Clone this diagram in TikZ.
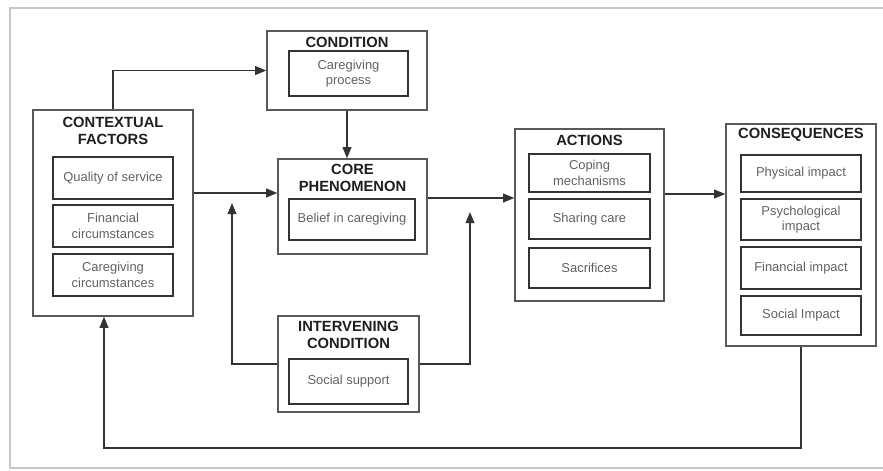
\documentclass[tikz,border=0pt]{standalone}
\usepackage{fontspec}
\setmainfont{Liberation Sans}
\usetikzlibrary{arrows.meta}
\tikzset{
  grp/.style 2 args={draw=black!65, line width=0.9pt, minimum width=#1cm, minimum height=#2cm, inner sep=0pt},
  item/.style 2 args={draw=black!80, line width=1.1pt, minimum width=#1cm, minimum height=#2cm, inner sep=1pt,
    align=center, text=black!62, font=\fontsize{9.2}{11}\selectfont},
  ttl/.style={align=center, inner sep=0pt, text=black!88, font=\bfseries\fontsize{10.5}{12.3}\selectfont},
  arr/.style={draw=black!80, line width=1pt, -{Triangle[length=2.8mm,width=2.2mm]}}
}

\begin{document}
\begin{tikzpicture}[x=0.025cm, y=-0.025cm]
  \useasboundingbox (0,0) rectangle (883,470);

  % frame
  \draw[black!22, line width=0.8pt] (883,8) -- (10,8) -- (10,468) -- (883,468);

  % contextual factors
  \node[grp={4}{5.15}] (cf) at (113,213) {};
  \node[ttl] (cft) at (113,131) {CONTEXTUAL\\FACTORS};
  \node[item={3}{1.05}] (qos) at (113,178) {Quality of service};
  \node[item={3}{1.05}] (fin) at (113,226) {Financial\\circumstances};
  \node[item={3}{1.05}] (cgc) at (113,275) {Caregiving\\circumstances};

  % condition
  \node[grp={4}{1.975}] (cond) at (347,70.5) {};
  \node[ttl] (condt) at (347,42) {CONDITION};
  \node[item={2.975}{1.125}] (cgp) at (348.5,73.5) {Caregiving\\process};

  % core phenomenon
  \node[grp={3.725}{2.375}] (core) at (352.5,206.5) {};
  \node[ttl] (coret) at (352.5,178) {CORE\\PHENOMENON};
  \node[item={3.15}{1.025}] (bel) at (352,219.5) {Belief in caregiving};

  % intervening condition
  \node[grp={3.525}{2.4}] (int) at (348.5,364) {};
  \node[ttl] (intt) at (348.5,335) {INTERVENING\\CONDITION};
  \node[item={2.975}{1.125}] (sup) at (348.5,381.5) {Social support};

  % actions
  \node[grp={3.725}{4.3}] (act) at (589.5,215) {};
  \node[ttl] (actt) at (589.5,140) {ACTIONS};
  \node[item={3.025}{0.95}] (cop) at (589.5,173) {Coping\\mechanisms};
  \node[item={3.025}{1.0}] (shr) at (589.5,219) {Sharing care};
  \node[item={3.025}{1.0}] (sac) at (589.5,268) {Sacrifices};

  % consequences
  \node[grp={3.75}{5.55}] (cons) at (801,235) {};
  \node[ttl] (const) at (801,135) {CONSEQUENCES};
  \node[item={3}{0.925}] (phy) at (801,173.5) {Physical impact};
  \node[item={3}{1.025}] (psy) at (801,219.5) {Psychological\\impact};
  \node[item={3}{1.05}] (fim) at (801,268) {Financial impact};
  \node[item={3}{0.975}] (soc) at (801,315.5) {Social Impact};

  % connectors
  \coordinate (c1) at ([yshift=0.5cm]cf.east);
  \coordinate (c2) at ([yshift=0.2125cm]core.east);
  \coordinate (c3) at ([yshift=0.525cm]act.east);
  \coordinate (up1) at (232,203);
  \coordinate (up2) at (470,212);
  \coordinate (fb) at (104,448);

  \draw[arr] (cf.north) |- (cond.west);
  \draw[arr] (cond.south) -- (cond.south |- core.north);
  \draw[arr] (c1) -- (c1 -| core.west);
  \draw[arr] (int.west) -| (up1);
  \draw[arr] (c2) -- (c2 -| act.west);
  \draw[arr] (int.east) -| (up2);
  \draw[arr] (c3) -- (c3 -| cons.west);
  \draw[arr] (cons.south) |- (fb) -- (fb |- cf.south);
\end{tikzpicture}
\end{document}
